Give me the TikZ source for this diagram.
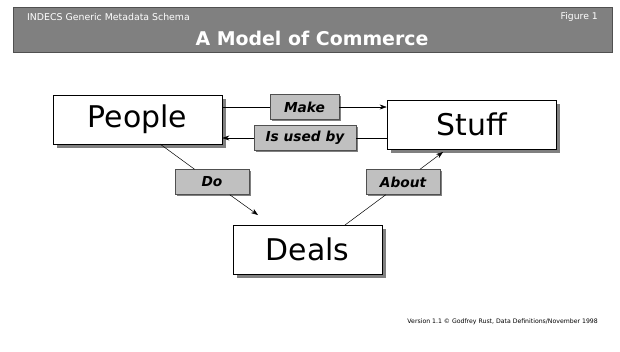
\documentclass[tikz,border=0pt]{standalone}
\usepackage{fontspec}
\setmainfont{DejaVu Sans}
\usetikzlibrary{shadows,arrows.meta}
\definecolor{barfill}{HTML}{808080}
\definecolor{barline}{HTML}{505050}
\definecolor{labfill}{HTML}{C0C0C0}
\definecolor{shadowgray}{HTML}{808080}
\begin{document}
\begin{tikzpicture}[x=1bp,y=-1bp,
  entity/.style={draw=black, line width=0.6bp, fill=white, minimum width=169bp, minimum height=49bp,
     inner sep=0pt, font=\fontsize{30}{32}\selectfont,
     drop shadow={shadow xshift=4bp, shadow yshift=-4bp, fill=shadowgray, opacity=1}},
  rel/.style={draw=barline, line width=0.5bp, fill=labfill, minimum height=25bp, inner sep=0pt,
     font=\fontsize{13.8}{15}\selectfont\bfseries\itshape,
     drop shadow={shadow xshift=1.5bp, shadow yshift=-1.5bp, fill=shadowgray, opacity=1}},
  conn/.style={draw=black, line width=0.5bp},
  arr/.style={conn, -{Stealth[length=7bp,width=5bp]}}]
\useasboundingbox (0,0) rectangle (620,351);
% header
\fill[white] (0,0) rectangle (620,351);
\node[draw=barline, fill=barfill, line width=0.8bp, minimum width=599bp, minimum height=45bp, inner sep=0pt] (bar) at (312.5,30) {};
\node[anchor=west, text=white, font=\fontsize{9.4}{10}\selectfont, inner sep=0pt] (hdr) at (27,17) {INDECS Generic Metadata Schema};
\node[anchor=east, text=white, font=\fontsize{9.3}{10}\selectfont, inner sep=0pt] (fig) at (598,17) {Figure 1};
\node[text=white, font=\fontsize{19}{21}\selectfont\bfseries, inner sep=0pt] (title) at (312,38) {A Model of Commerce};
% entities
\node[entity] (People) at (137.5,119.5) {People};
\node[entity] (Stuff) at (471.5,124.5) {Stuff};
\node[entity, minimum width=149bp] (Deals) at (307.5,249.5) {Deals};
% free ends
\coordinate (pdo) at (160,144);
\coordinate (dotip) at (258,215);
\coordinate (dab) at (345,225);
\coordinate (abtip) at (443,152);
% relations
\node[rel, minimum width=69bp] (Make) at (304.5,107) {Make};
\node[rel, minimum width=102bp] (Used) at (305,138) {Is used by};
\node[rel, minimum width=74bp] (Do) at (212,182) {Do};
\node[rel, minimum width=74bp] (About) at (403,182) {About};
% connectors
\draw[conn] (People.east |- Make) -- (Make.west);
\draw[arr] (Make.east) -- (Stuff.west |- Make);
\draw[conn] (Stuff.west |- Used) -- (Used.east);
\draw[arr] (Used.west) -- (People.east |- Used);
\draw[conn] (pdo) -- (Do);
\draw[arr] (Do) -- (dotip);
\draw[conn] (dab) -- (About);
\draw[arr] (About) -- (abtip);
% footer
\node[anchor=east, font=\fontsize{6.2}{7}\selectfont, inner sep=0pt] (foot) at (598,322) {Version 1.1 © Godfrey Rust, Data Definitions/November 1998};
\end{tikzpicture}
\end{document}
